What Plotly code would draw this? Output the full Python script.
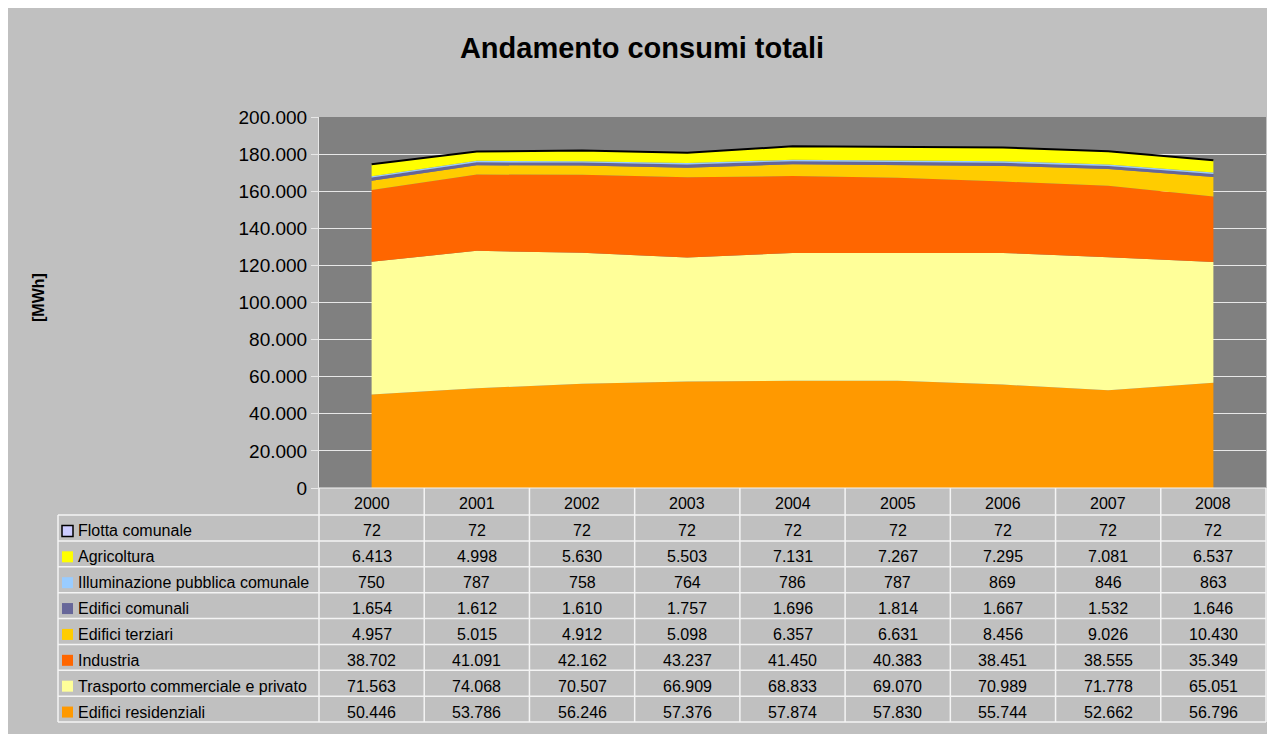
import plotly.graph_objects as go

years = ["2000", "2001", "2002", "2003", "2004", "2005", "2006", "2007", "2008"]

# Series (bottom of stack first)
edifici_residenziali = [50446, 53786, 56246, 57376, 57874, 57830, 55744, 52662, 56796]
trasporto = [71563, 74068, 70507, 66909, 68833, 69070, 70989, 71778, 65051]
industria = [38702, 41091, 42162, 43237, 41450, 40383, 38451, 38555, 35349]
edifici_terziari = [4957, 5015, 4912, 5098, 6357, 6631, 8456, 9026, 10430]
edifici_comunali = [1654, 1612, 1610, 1757, 1696, 1814, 1667, 1532, 1646]
illuminazione = [750, 787, 758, 764, 786, 787, 869, 846, 863]
agricoltura = [6413, 4998, 5630, 5503, 7131, 7267, 7295, 7081, 6537]
flotta = [72, 72, 72, 72, 72, 72, 72, 72, 72]

series_names = [
    "Edifici residenziali",
    "Trasporto commerciale e privato",
    "Industria",
    "Edifici terziari",
    "Edifici comunali",
    "Illuminazione pubblica comunale",
    "Agricoltura",
    "Flotta comunale",
]
series_values = [edifici_residenziali, trasporto, industria, edifici_terziari,
                 edifici_comunali, illuminazione, agricoltura, flotta]
series_colors = ["#FF9900", "#FFFF99", "#FF6600", "#FFCC00",
                 "#666699", "#99CCFF", "#FFFF00", "#CCCCFF"]

y_ticks = list(range(0, 200001, 20000))


def fmt(v):
    return f"{v:,}".replace(",", ".")


W, H = 1275, 734
OFF = 8  # page body margin offset
L, R, T, B = 319, 1266, 117, 488  # plot area in screen pixels


def px(x):
    return (x - L) / (R - L)


def py(y):
    return (B - y) / (B - T)


fig = go.Figure()
xs = list(range(len(years)))
for name, vals, col in zip(series_names, series_values, series_colors):
    is_top = name == "Flotta comunale"
    fig.add_trace(go.Scatter(
        x=xs, y=vals, name=name, stackgroup="one", mode="lines",
        fillcolor=col,
        line=dict(color="#000000" if is_top else col, width=2 if is_top else 0),
        showlegend=False,
    ))

shapes = []
annotations = []

# data table geometry
n = len(years)
col_w = (R - L) / n
header_bottom = 515
table_bottom = 722
row_order = list(reversed(range(len(series_names))))  # top row = Flotta
n_rows = len(row_order)
row_h = (table_bottom - header_bottom) / n_rows
line_col = "#F4F4F4"

# horizontal lines
shapes.append(dict(type="line", xref="paper", yref="paper", x0=px(L), x1=px(R),
                   y0=py(B), y1=py(B), line=dict(color=line_col, width=1)))
for i in range(n_rows + 1):
    yy = header_bottom + i * row_h
    shapes.append(dict(type="line", xref="paper", yref="paper", x0=px(58), x1=px(R),
                       y0=py(yy), y1=py(yy), line=dict(color=line_col, width=1.5)))
# vertical lines
shapes.append(dict(type="line", xref="paper", yref="paper", x0=px(58), x1=px(58),
                   y0=py(header_bottom), y1=py(table_bottom), line=dict(color=line_col, width=1.5)))
for k in range(n + 1):
    xx = L + k * col_w
    shapes.append(dict(type="line", xref="paper", yref="paper", x0=px(xx), x1=px(xx),
                       y0=py(B), y1=py(table_bottom), line=dict(color=line_col, width=1.5)))

txt_font = dict(family="Liberation Sans, Arial, sans-serif", size=16, color="#000000")

# header years
for k, yr in enumerate(years):
    annotations.append(dict(xref="paper", yref="paper", x=px(L + (k + 0.5) * col_w),
                            y=py((B + header_bottom) / 2 + 2), text=yr, showarrow=False,
                            xanchor="center", yanchor="middle", font=txt_font))

# rows
for r, si in enumerate(row_order):
    yc = header_bottom + (r + 0.5) * row_h + 3
    is_top = series_names[si] == "Flotta comunale"
    shapes.append(dict(type="rect", xref="paper", yref="paper",
                       x0=px(62), x1=px(73), y0=py(yc - 5.5), y1=py(yc + 5.5),
                       fillcolor=series_colors[si],
                       line=dict(color="#000000" if is_top else series_colors[si],
                                 width=1.5 if is_top else 0)))
    annotations.append(dict(xref="paper", yref="paper", x=px(76), y=py(yc),
                            text=series_names[si], showarrow=False,
                            xanchor="left", yanchor="middle", font=txt_font))
    for k, v in enumerate(series_values[si]):
        annotations.append(dict(xref="paper", yref="paper", x=px(L + (k + 0.5) * col_w),
                                y=py(yc), text=fmt(v), showarrow=False,
                                xanchor="center", yanchor="middle", font=txt_font))

# y-axis title
annotations.append(dict(xref="paper", yref="paper", x=px(38), y=py(298),
                        text="<b>[MWh]</b>", showarrow=False, textangle=-90,
                        xanchor="center", yanchor="middle",
                        font=dict(family="Liberation Sans, Arial, sans-serif", size=16, color="#000000")))

fig.update_layout(
    width=W, height=H,
    margin=dict(l=L - OFF, r=W - (R - OFF), t=T - OFF, b=H - (B - OFF), pad=0),
    paper_bgcolor="#C0C0C0",
    plot_bgcolor="#808080",
    title=dict(text="<b>Andamento consumi totali</b>", x=(642 - OFF) / W, xanchor="center",
               y=1 - (48 - OFF) / H, yanchor="middle",
               font=dict(family="Liberation Sans, Arial, sans-serif", size=29, color="#000000")),
    xaxis=dict(range=[-0.5, n - 0.5], showticklabels=False, showgrid=False,
               zeroline=False, showline=False, ticks=""),
    yaxis=dict(range=[0, 200000], tickvals=y_ticks, ticktext=[fmt(v) for v in y_ticks],
               showgrid=True, gridcolor="#E8E8E8", gridwidth=1, zeroline=False,
               showline=True, linecolor="#E8E8E8", linewidth=1,
               ticks="outside", ticklen=7, tickcolor="#E8E8E8",
               tickfont=dict(family="Liberation Sans, Arial, sans-serif", size=19, color="#000000")),
    shapes=shapes,
    annotations=annotations,
)

fig.write_html("out.html")
